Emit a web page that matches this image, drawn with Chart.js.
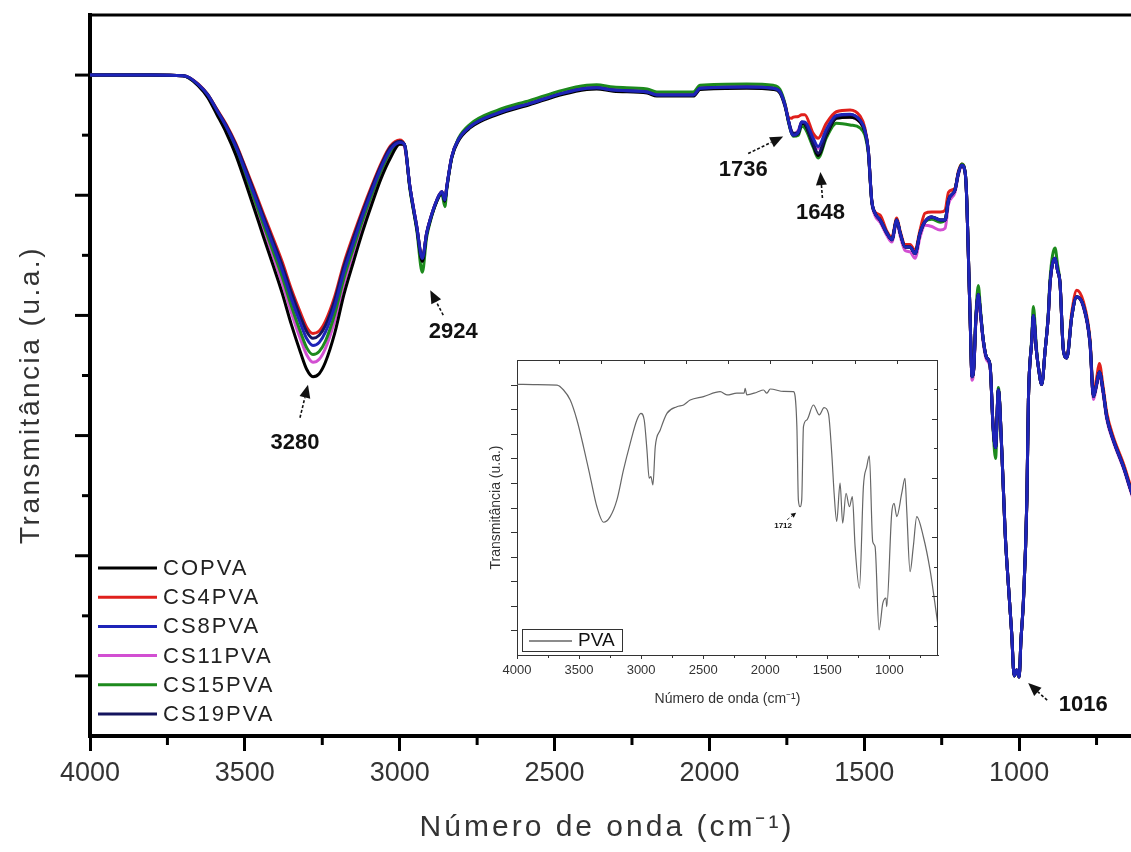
<!DOCTYPE html>
<html>
<head>
<meta charset="utf-8">
<script src="https://cdn.jsdelivr.net/npm/chart.js@4.4.0/dist/chart.umd.min.js"></script>
<style>
  html, body { margin: 0; padding: 0; background: #fff; overflow: hidden; }
  #wrap { position: relative; width: 1131px; height: 852px; overflow: hidden; }
  #mainChart { position: absolute; left: 0; top: 0; }
  #insetChart { position: absolute; left: 470px; top: 340px; }
</style>
</head>
<body>
<div id="wrap">
  <canvas id="mainChart" width="1160" height="852"></canvas>
  <canvas id="insetChart" width="480" height="380"></canvas>
</div>
<script>
const FONT = '"Liberation Sans", Arial, sans-serif';

// ---- main spectra (wavenumber in cm-1, transmittance in arbitrary units) ----
const wavenumbers = [
  4000, 3900, 3800, 3700, 3680, 3650, 3620, 3590, 3560, 3530,
  3500, 3470, 3440, 3410, 3380, 3350, 3320, 3300,
  3280, 3260, 3240, 3210, 3180, 3150, 3120, 3090, 3060, 3030,
  3000, 2985, 2967, 2945, 2927, 2913, 2902, 2880, 2864, 2854, 2848, 2832, 2811,
  2773, 2687, 2579, 2472, 2396, 2364, 2310, 2201, 2170, 2052, 2030, 1880, 1794,
  1772, 1756, 1745, 1736, 1729, 1713, 1702, 1692, 1665, 1649, 1622, 1590, 1546, 1514, 1498,
  1487, 1476, 1465, 1449, 1427, 1411, 1395, 1384, 1368, 1352, 1336, 1320, 1304, 1282, 1255, 1239, 1228, 1207, 1196, 1185,
  1174, 1169, 1164, 1158, 1152, 1146, 1140, 1132, 1124, 1116, 1105, 1094,
  1084, 1076, 1067, 1056, 1045, 1035, 1024, 1016, 1008, 1000, 994, 986, 975, 970, 959,
  954, 944, 938, 927, 916, 906, 900, 884, 876, 868, 857, 846, 830, 814,
  792, 771, 760, 750, 741, 729, 717, 696, 663, 639, 620, 600
];

const copva = [
  11.0, 11.0, 11.0, 10.99, 10.95, 10.82, 10.63, 10.34, 10.04, 9.68,
  9.24, 8.78, 8.31, 7.85, 7.38, 6.85, 6.38, 6.10,
  5.98, 6.03, 6.22, 6.70, 7.35, 7.88, 8.39, 8.85, 9.28, 9.62,
  9.85, 9.85, 9.12, 8.45, 7.90, 8.35, 8.57, 8.90, 9.04, 8.90, 9.12, 9.62, 9.90,
  10.12, 10.34, 10.51, 10.68, 10.76, 10.77, 10.73, 10.70, 10.65, 10.65, 10.76, 10.78, 10.76,
  10.70, 10.48, 10.24, 10.06, 10.00, 10.03, 10.20, 10.18, 9.84, 9.66, 10.00, 10.28, 10.30, 10.22, 10.06,
  9.75, 8.92, 8.70, 8.59, 8.37, 8.26, 8.59, 8.37, 8.14, 8.14, 8.03, 8.37, 8.56, 8.64, 8.59, 8.59, 8.92, 9.09, 9.37, 9.50,
  9.37, 8.92, 8.03, 6.92, 5.98, 6.15, 6.90, 7.35, 7.00, 6.60, 6.30, 6.18,
  5.15, 4.80, 5.76, 4.76, 3.37, 2.54, 1.71, 1.00, 1.10, 0.98, 1.60, 2.26, 3.93, 5.59, 6.59,
  7.00, 6.40, 6.15, 5.85, 6.42, 6.98, 7.54, 7.95, 7.75, 7.54, 6.42, 6.29, 6.98, 7.31,
  7.15, 6.54, 5.65, 5.85, 6.06, 5.75, 5.31, 4.93, 4.48, 4.09, 3.80, 3.50
];

const cs4pva = [
  11.0, 11.0, 11.0, 10.99, 10.96, 10.85, 10.68, 10.43, 10.18, 9.87,
  9.49, 9.10, 8.69, 8.30, 7.90, 7.44, 7.04, 6.80,
  6.70, 6.74, 6.90, 7.31, 7.87, 8.33, 8.76, 9.16, 9.53, 9.82,
  9.92, 9.84, 9.14, 8.48, 7.95, 8.37, 8.59, 8.92, 9.06, 8.92, 9.14, 9.64, 9.92,
  10.14, 10.36, 10.53, 10.70, 10.78, 10.79, 10.75, 10.72, 10.67, 10.67, 10.78, 10.80, 10.78,
  10.72, 10.52, 10.30, 10.28, 10.30, 10.31, 10.34, 10.34, 10.03, 9.95, 10.20, 10.39, 10.42, 10.32, 10.12,
  9.75, 8.92, 8.72, 8.67, 8.40, 8.30, 8.62, 8.40, 8.18, 8.18, 8.08, 8.42, 8.70, 8.72, 8.72, 8.75, 9.05, 9.12, 9.40, 9.52,
  9.37, 8.92, 8.03, 6.92, 5.98, 6.15, 6.90, 7.35, 7.00, 6.60, 6.30, 6.18,
  5.15, 4.80, 5.76, 4.76, 3.37, 2.54, 1.71, 1.00, 1.10, 0.98, 1.60, 2.26, 3.93, 5.59, 6.59,
  7.00, 6.40, 6.15, 5.85, 6.42, 6.98, 7.54, 7.95, 7.75, 7.54, 6.42, 6.32, 7.05, 7.42,
  7.22, 6.60, 5.70, 5.95, 6.20, 5.82, 5.38, 4.98, 4.53, 4.14, 3.85, 3.55
];

const cs8pva = [
  11.0, 11.0, 11.0, 10.99, 10.96, 10.84, 10.67, 10.41, 10.14, 9.82,
  9.42, 9.01, 8.59, 8.18, 7.76, 7.28, 6.86, 6.61,
  6.50, 6.55, 6.72, 7.15, 7.73, 8.20, 8.66, 9.07, 9.46, 9.76,
  9.88, 9.85, 9.14, 8.48, 7.95, 8.37, 8.59, 8.92, 9.06, 8.92, 9.14, 9.64, 9.92,
  10.14, 10.36, 10.53, 10.70, 10.78, 10.79, 10.75, 10.72, 10.67, 10.67, 10.78, 10.80, 10.78,
  10.72, 10.50, 10.25, 10.05, 10.00, 10.05, 10.22, 10.22, 9.95, 9.81, 10.10, 10.33, 10.35, 10.25, 10.08,
  9.75, 8.92, 8.70, 8.59, 8.37, 8.26, 8.59, 8.37, 8.14, 8.14, 8.03, 8.37, 8.56, 8.64, 8.59, 8.59, 8.92, 9.09, 9.37, 9.50,
  9.37, 8.92, 8.03, 6.92, 5.98, 6.15, 6.90, 7.35, 7.00, 6.60, 6.30, 6.18,
  5.15, 4.80, 5.76, 4.76, 3.37, 2.54, 1.71, 1.00, 1.10, 0.98, 1.60, 2.26, 3.93, 5.59, 6.59,
  7.00, 6.40, 6.15, 5.85, 6.42, 6.98, 7.54, 7.95, 7.75, 7.54, 6.42, 6.29, 6.98, 7.31,
  7.15, 6.54, 5.65, 5.85, 6.06, 5.75, 5.31, 4.93, 4.48, 4.09, 3.80, 3.50
];

const cs11pva = [
  11.0, 11.0, 11.0, 10.99, 10.95, 10.83, 10.65, 10.37, 10.09, 9.74,
  9.32, 8.89, 8.44, 8.00, 7.55, 7.05, 6.60, 6.34,
  6.22, 6.27, 6.45, 6.91, 7.53, 8.03, 8.52, 8.95, 9.36, 9.69,
  9.86, 9.82, 9.14, 8.48, 7.90, 8.37, 8.59, 8.92, 9.06, 8.92, 9.14, 9.64, 9.92,
  10.14, 10.36, 10.53, 10.70, 10.78, 10.79, 10.75, 10.72, 10.67, 10.67, 10.78, 10.80, 10.78,
  10.72, 10.50, 10.25, 10.08, 10.02, 10.08, 10.22, 10.20, 9.92, 9.78, 10.08, 10.30, 10.30, 10.22, 10.05,
  9.72, 8.90, 8.66, 8.55, 8.33, 8.22, 8.55, 8.32, 8.08, 8.06, 7.95, 8.30, 8.50, 8.48, 8.42, 8.45, 8.85, 9.05, 9.34, 9.48,
  9.35, 8.90, 8.00, 6.90, 5.92, 6.12, 6.85, 7.30, 6.95, 6.55, 6.26, 6.14,
  5.15, 4.80, 5.76, 4.76, 3.37, 2.54, 1.71, 1.00, 1.10, 0.98, 1.60, 2.26, 3.93, 5.59, 6.59,
  7.00, 6.40, 6.15, 5.85, 6.42, 6.98, 7.54, 7.95, 7.75, 7.54, 6.42, 6.29, 6.98, 7.31,
  7.12, 6.50, 5.60, 5.82, 6.02, 5.70, 5.27, 4.90, 4.45, 4.06, 3.77, 3.47
];

const cs15pva = [
  11.0, 11.0, 11.0, 10.99, 10.95, 10.83, 10.66, 10.39, 10.11, 9.78,
  9.37, 8.94, 8.51, 8.08, 7.65, 7.16, 6.72, 6.46,
  6.35, 6.40, 6.57, 7.02, 7.62, 8.11, 8.58, 9.01, 9.41, 9.72,
  9.87, 9.85, 9.10, 8.42, 7.72, 8.30, 8.55, 8.90, 9.02, 8.81, 9.10, 9.62, 9.94,
  10.18, 10.41, 10.58, 10.75, 10.83, 10.84, 10.80, 10.77, 10.72, 10.72, 10.83, 10.85, 10.83,
  10.76, 10.52, 10.22, 10.05, 9.98, 10.00, 10.15, 10.12, 9.80, 9.62, 9.96, 10.20, 10.17, 10.12, 10.00,
  9.70, 8.90, 8.70, 8.59, 8.37, 8.26, 8.59, 8.37, 8.14, 8.14, 8.03, 8.37, 8.56, 8.60, 8.55, 8.59, 8.92, 9.09, 9.37, 9.52,
  9.37, 8.92, 8.03, 6.92, 5.98, 6.15, 6.95, 7.50, 7.05, 6.60, 6.30, 6.18,
  5.10, 4.62, 5.80, 4.76, 3.37, 2.54, 1.71, 1.00, 1.08, 0.98, 1.60, 2.26, 3.93, 5.59, 6.65,
  7.15, 6.45, 6.15, 5.85, 6.42, 7.02, 7.62, 8.12, 7.85, 7.54, 6.42, 6.29, 6.98, 7.31,
  7.15, 6.54, 5.65, 5.85, 6.06, 5.75, 5.31, 4.93, 4.48, 4.09, 3.80, 3.50
];

const cs19pva = [
  11.0, 11.0, 11.0, 10.99, 10.96, 10.84, 10.68, 10.42, 10.16, 9.85,
  9.47, 9.06, 8.65, 8.25, 7.84, 7.38, 6.97, 6.73,
  6.62, 6.67, 6.83, 7.25, 7.82, 8.28, 8.72, 9.13, 9.50, 9.80,
  9.90, 9.85, 9.14, 8.48, 7.95, 8.37, 8.59, 8.92, 9.06, 8.92, 9.14, 9.64, 9.92,
  10.14, 10.36, 10.53, 10.70, 10.78, 10.79, 10.75, 10.72, 10.67, 10.67, 10.78, 10.80, 10.78,
  10.72, 10.50, 10.25, 10.08, 10.03, 10.05, 10.22, 10.20, 9.86, 9.70, 10.03, 10.31, 10.34, 10.25, 10.08,
  9.75, 8.92, 8.70, 8.59, 8.37, 8.26, 8.59, 8.37, 8.14, 8.14, 8.03, 8.37, 8.56, 8.64, 8.59, 8.59, 8.92, 9.09, 9.37, 9.50,
  9.37, 8.92, 8.03, 6.92, 5.98, 6.15, 6.90, 7.35, 7.00, 6.60, 6.30, 6.18,
  5.15, 4.80, 5.76, 4.76, 3.37, 2.54, 1.71, 1.00, 1.10, 0.98, 1.60, 2.26, 3.93, 5.59, 6.59,
  7.00, 6.40, 6.15, 5.85, 6.42, 6.98, 7.54, 7.95, 7.75, 7.54, 6.42, 6.29, 6.98, 7.31,
  7.15, 6.54, 5.65, 5.85, 6.06, 5.75, 5.31, 4.93, 4.48, 4.09, 3.80, 3.50
];

const seriesNames = ['COPVA', 'CS4PVA', 'CS8PVA', 'CS11PVA', 'CS15PVA', 'CS19PVA'];
const seriesValues = [copva, cs4pva, cs8pva, cs11pva, cs15pva, cs19pva];
const seriesColors = ['#000000', '#e0201c', '#1e24b8', '#d24fd2', '#1d8a1d', '#14145e'];
const drawOrder = [2, 5, 0, 4, 3, 1];   // lower = drawn on top

const xMajorTicks = [4000, 3500, 3000, 2500, 2000, 1500, 1000];
const xMinorTicks = [3750, 3250, 2750, 2250, 1750, 1250, 750];
const yMajorTicks = [1, 3, 5, 7, 9, 11];
const yMinorTicks = [2, 4, 6, 8, 10];

// marked bands: wavenumber and the transmittance the arrow points at
const peakWavenumbers = [3280, 2924, 1736, 1648, 1016];
const peakValues = [5.98, 7.72, 10.06, 9.62, 0.98];

// ---- inset: PVA spectrum ----
const insetWavenumbers = [
  4000, 3850, 3678, 3625, 3571, 3517, 3464, 3410, 3356, 3303, 3249, 3195, 3142, 3088, 3034, 3002,
  2975, 2953, 2935, 2921, 2905, 2886, 2846, 2792, 2712, 2658, 2605, 2497, 2363, 2309, 2228, 2170,
  2162, 2148, 2067, 2014, 1987, 1960, 1850, 1773, 1745, 1733, 1719, 1706, 1692, 1665, 1612, 1564,
  1526, 1491, 1464, 1445, 1424, 1397, 1376, 1349, 1322, 1298, 1276, 1241, 1209, 1182, 1161, 1134,
  1115, 1083, 1053, 1027, 1021, 981, 962, 940, 900, 874, 860, 833, 807, 779, 726, 672, 618, 608
];
const pvaValues = [
  11.01, 11.0, 10.98, 10.78, 10.37, 9.56, 8.47, 7.25, 6.03, 5.40, 5.63, 6.31, 7.53, 8.61, 9.56, 9.83,
  9.56, 8.34, 7.19, 7.26, 6.92, 8.47, 9.15, 9.83, 10.10, 10.17, 10.37, 10.51, 10.71, 10.58, 10.65, 10.65,
  10.85, 10.58, 10.69, 10.78, 10.65, 10.82, 10.72, 10.71, 9.29, 6.31, 6.03, 6.31, 9.29, 9.56, 10.17, 9.77,
  10.06, 9.83, 8.20, 6.58, 5.43, 6.99, 5.36, 6.58, 6.03, 6.44, 4.41, 2.71, 6.85, 7.66, 8.10, 4.61,
  4.41, 1.02, 2.10, 2.31, 1.97, 5.77, 6.17, 5.63, 6.58, 7.19, 5.90, 3.39, 4.41, 5.63, 4.81, 3.46, 1.56, 1.20
];
const insetXTicks = [4000, 3500, 3000, 2500, 2000, 1500, 1000];
const insetXMinor = [3750, 3250, 2750, 2250, 1750, 1250, 750];
const insetLeftTicks = [1, 2, 3, 4, 5, 6, 7, 8, 9, 10, 11];
const insetTopTicks = [3660, 3320, 2980, 2640, 2300, 1960, 1620, 1280, 940];
const insetRightTicks = [10.8, 9.6, 8.4, 7.2, 6.0, 4.8, 3.6, 2.4, 1.2];
const insetPeakWavenumber = 1719;
const insetPeakValue = 6.03;
const insetPeakLabel = '1712';

function strokeLine(ctx, x1, y1, x2, y2) {
  ctx.beginPath();
  ctx.moveTo(x1, y1);
  ctx.lineTo(x2, y2);
  ctx.stroke();
}

function drawArrow(ctx, x1, y1, x2, y2, head, half, width) {
  const ang = Math.atan2(y2 - y1, x2 - x1);
  const bx = x2 - head * Math.cos(ang), by = y2 - head * Math.sin(ang);
  ctx.lineWidth = width;
  ctx.setLineDash([3, 2]);
  strokeLine(ctx, x1, y1, bx, by);
  ctx.setLineDash([]);
  ctx.beginPath();
  ctx.moveTo(x2, y2);
  ctx.lineTo(bx + half * Math.sin(ang), by - half * Math.cos(ang));
  ctx.lineTo(bx - half * Math.sin(ang), by + half * Math.cos(ang));
  ctx.closePath();
  ctx.fill();
}

function spacedText(ctx, text, x, y, spacing) {
  if ('letterSpacing' in ctx) ctx.letterSpacing = spacing + 'px';
  ctx.fillText(text, x, y);
  if ('letterSpacing' in ctx) ctx.letterSpacing = '0px';
}

// frame, minor ticks, axis titles, legend and band labels of the main plot
const mainDecor = {
  id: 'mainDecor',
  afterDraw(chart) {
    const { ctx, chartArea: a, scales: { x, y } } = chart;
    ctx.save();
    ctx.strokeStyle = '#000';
    ctx.fillStyle = '#000';
    ctx.lineWidth = 3;
    strokeLine(ctx, a.left - 2, a.top, a.right, a.top);

    xMinorTicks.forEach(v => {
      const px = x.getPixelForValue(v);
      strokeLine(ctx, px, a.bottom, px, a.bottom + 9);
    });
    yMajorTicks.forEach(v => {
      const py = y.getPixelForValue(v);
      strokeLine(ctx, a.left - 15, py, a.left, py);
    });
    yMinorTicks.forEach(v => {
      const py = y.getPixelForValue(v);
      strokeLine(ctx, a.left - 8, py, a.left, py);
    });

    // axis titles
    ctx.fillStyle = '#333';
    ctx.textAlign = 'center';
    ctx.textBaseline = 'middle';
    ctx.font = '30px ' + FONT;
    spacedText(ctx, 'Número de onda (cm⁻¹)', a.left + 517, a.bottom + 92, 3);
    ctx.save();
    ctx.translate(31, a.top + 380);
    ctx.rotate(-Math.PI / 2);
    ctx.font = '28px ' + FONT;
    spacedText(ctx, 'Transmitância (u.a.)', 0, 0, 2.5);
    ctx.restore();

    // legend
    ctx.font = '22px ' + FONT;
    ctx.textAlign = 'left';
    chart.data.datasets.forEach((ds, i) => {
      const ly = a.bottom - 168 + i * 29.2;
      ctx.strokeStyle = ds.borderColor;
      ctx.lineWidth = 3;
      strokeLine(ctx, a.left + 8, ly, a.left + 67, ly);
      ctx.fillStyle = '#222';
      spacedText(ctx, ds.label, a.left + 73, ly + 1, 2);
    });

    // band labels with arrows
    const offsets = [
      { tip: [-5, 8], tail: [-13, 41], text: [-18, 66] },
      { tip: [7, 18], tail: [20, 43], text: [30, 60] },
      { tip: [-8, 5], tail: [-43, 22], text: [-48, 38] },
      { tip: [2, 14], tail: [4, 40], text: [2, 55] },
      { tip: [14, 6], tail: [33, 23], text: [69, 28] }
    ];
    ctx.fillStyle = '#111';
    ctx.strokeStyle = '#111';
    ctx.font = 'bold 22px ' + FONT;
    ctx.textAlign = 'center';
    peakWavenumbers.forEach((w, i) => {
      const px = x.getPixelForValue(w), py = y.getPixelForValue(peakValues[i]);
      const o = offsets[i];
      drawArrow(ctx, px + o.tail[0], py + o.tail[1], px + o.tip[0], py + o.tip[1], 13, 5.5, 1.6);
      ctx.fillText(String(w), px + o.text[0], py + o.text[1]);
    });
    ctx.restore();
  }
};

// frame, ticks, legend and label of the inset
const insetDecor = {
  id: 'insetDecor',
  afterDraw(chart) {
    const { ctx, chartArea: a, scales: { x, y } } = chart;
    ctx.save();
    ctx.strokeStyle = '#333';
    ctx.fillStyle = '#333';
    ctx.lineWidth = 1;
    strokeLine(ctx, a.left, a.top + 0.5, a.right, a.top + 0.5);
    strokeLine(ctx, a.right - 0.5, a.top, a.right - 0.5, a.bottom);

    insetXMinor.forEach(v => {
      const px = Math.round(x.getPixelForValue(v)) + 0.5;
      strokeLine(ctx, px, a.bottom, px, a.bottom + 3);
    });
    insetLeftTicks.forEach(v => {
      const py = Math.round(y.getPixelForValue(v)) + 0.5;
      strokeLine(ctx, a.left - 6, py, a.left, py);
    });
    insetTopTicks.forEach(v => {
      const px = Math.round(x.getPixelForValue(v)) + 0.5;
      strokeLine(ctx, px, a.top, px, a.top + 4);
    });
    insetRightTicks.forEach((v, i) => {
      const py = Math.round(y.getPixelForValue(v)) + 0.5;
      strokeLine(ctx, a.right - (i % 2 ? 6 : 4), py, a.right, py);
    });

    // legend box
    const ds = chart.data.datasets[0];
    const bx = a.left + 5, by = a.bottom - 26;
    ctx.strokeRect(bx + 0.5, by + 0.5, 100, 22);
    ctx.strokeStyle = ds.borderColor;
    ctx.lineWidth = 1.5;
    strokeLine(ctx, bx + 7, by + 12, bx + 50, by + 12);
    ctx.fillStyle = '#111';
    ctx.font = '19px ' + FONT;
    ctx.textBaseline = 'middle';
    ctx.fillText(ds.label, bx + 56, by + 12);

    // 1712 label
    const px = x.getPixelForValue(insetPeakWavenumber), py = y.getPixelForValue(insetPeakValue);
    ctx.fillStyle = '#111';
    ctx.strokeStyle = '#111';
    drawArrow(ctx, px - 13, py + 13, px - 4, py + 6, 5, 2.5, 0.8);
    ctx.font = 'bold 8px ' + FONT;
    ctx.textAlign = 'center';
    ctx.fillText(insetPeakLabel, px - 17, py + 19);
    ctx.restore();
  }
};

const mainChart = new Chart(document.getElementById('mainChart'), {
  type: 'line',
  data: {
    datasets: seriesNames.map((name, i) => ({
      label: name,
      data: wavenumbers.map((w, j) => ({ x: w, y: seriesValues[i][j] })),
      borderColor: seriesColors[i],
      borderWidth: 3,
      pointRadius: 0,
      fill: false,
      cubicInterpolationMode: 'monotone',
      order: drawOrder[i]
    }))
  },
  options: {
    responsive: false,
    animation: false,
    layout: { padding: { top: 15, right: 17, left: 0, bottom: 0 } },
    plugins: { legend: { display: false }, tooltip: { enabled: false } },
    scales: {
      x: {
        type: 'linear',
        reverse: true,
        min: 600,
        max: 4000,
        afterBuildTicks: s => { s.ticks = xMajorTicks.map(v => ({ value: v })); },
        afterFit: s => { s.height = 116; },
        grid: { drawOnChartArea: false, tickLength: 15, tickWidth: 3, color: '#000' },
        border: { display: true, color: '#000', width: 4 },
        ticks: { font: { family: FONT, size: 27 }, color: '#333', padding: 6, maxRotation: 0, callback: v => String(v) },
        title: { display: false }
      },
      y: {
        min: 0,
        max: 12,
        afterFit: s => { s.width = 90; },
        grid: { display: false },
        border: { display: true, color: '#000', width: 4 },
        ticks: { display: false },
        title: { display: false }
      }
    }
  },
  plugins: [mainDecor]
});

const insetChart = new Chart(document.getElementById('insetChart'), {
  type: 'line',
  data: {
    datasets: [{
      label: 'PVA',
      data: insetWavenumbers.map((w, i) => ({ x: w, y: pvaValues[i] })),
      borderColor: '#666',
      borderWidth: 1.2,
      pointRadius: 0,
      fill: false,
      cubicInterpolationMode: 'monotone'
    }]
  },
  options: {
    responsive: false,
    animation: false,
    layout: { padding: { top: 20, right: 12, left: 0, bottom: 0 } },
    plugins: { legend: { display: false }, tooltip: { enabled: false } },
    scales: {
      x: {
        type: 'linear',
        reverse: true,
        min: 608,
        max: 4000,
        afterBuildTicks: s => { s.ticks = insetXTicks.map(v => ({ value: v })); },
        afterFit: s => { s.height = 65; },
        grid: { drawOnChartArea: false, tickLength: 4, tickWidth: 1, color: '#333' },
        border: { display: true, color: '#333', width: 1 },
        ticks: { font: { family: FONT, size: 13 }, color: '#333', padding: 4, maxRotation: 0, callback: v => String(v) },
        title: { display: true, text: 'Número de onda (cm⁻¹)', font: { family: FONT, size: 14 }, color: '#333', padding: { top: 0, bottom: 12 } }
      },
      y: {
        min: 0,
        max: 12,
        afterFit: s => { s.width = 47; },
        grid: { display: false },
        border: { display: true, color: '#333', width: 1 },
        ticks: { display: false },
        title: { display: true, text: 'Transmitância (u.a.)', font: { family: FONT, size: 14 }, color: '#333', padding: { top: 18, bottom: 0 } }
      }
    }
  },
  plugins: [insetDecor]
});
</script>
</body>
</html>
